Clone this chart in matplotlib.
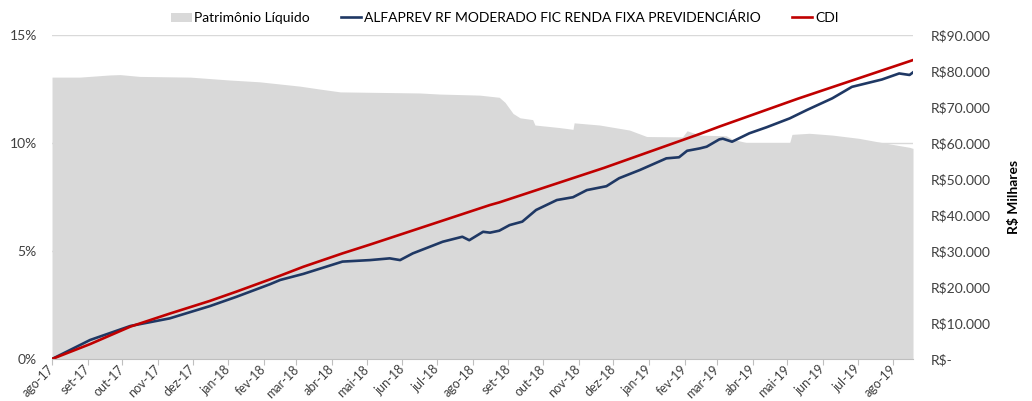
import numpy as np
import pandas as pd
import matplotlib
matplotlib.use("Agg")
import matplotlib.pyplot as plt
from matplotlib.ticker import FuncFormatter

plt.rcParams['font.family'] = ['Lato', 'DejaVu Sans']

# fund return (%)
fund_dates = ['2017-08-01', '2017-09-03', '2017-10-08', '2017-11-11', '2017-12-16',
              '2018-01-08', '2018-02-06', '2018-02-15', '2018-03-07', '2018-04-10',
              '2018-05-04', '2018-05-21', '2018-05-30', '2018-06-10', '2018-07-06',
              '2018-07-23', '2018-07-29', '2018-08-10', '2018-08-16', '2018-08-24',
              '2018-09-02', '2018-09-13', '2018-09-25', '2018-10-13', '2018-10-27',
              '2018-11-08', '2018-11-25', '2018-12-06', '2018-12-24', '2019-01-16',
              '2019-01-27', '2019-02-03', '2019-02-14', '2019-02-20', '2019-03-03',
              '2019-03-06', '2019-03-14', '2019-03-29', '2019-04-13', '2019-05-03',
              '2019-05-18', '2019-06-09', '2019-06-26', '2019-07-22', '2019-08-06',
              '2019-08-15', '2019-08-18']
fund_ret = [0.00, 0.88, 1.53, 1.88, 2.45,
            2.88, 3.46, 3.66, 3.94, 4.51,
            4.58, 4.66, 4.58, 4.89, 5.43,
            5.66, 5.50, 5.89, 5.85, 5.94,
            6.20, 6.36, 6.90, 7.36, 7.49,
            7.82, 8.00, 8.37, 8.75, 9.29,
            9.34, 9.64, 9.75, 9.83, 10.17,
            10.20, 10.06, 10.45, 10.73, 11.14,
            11.53, 12.07, 12.60, 12.94, 13.22,
            13.15, 13.27]

# CDI accumulated (%)
cdi_dates = ['2017-08-01', '2017-09-03', '2017-10-08', '2017-11-11', '2017-12-16',
             '2018-01-08', '2018-02-15', '2018-03-07', '2018-04-10', '2018-05-04',
             '2018-08-16', '2018-08-24', '2018-11-23', '2019-02-14', '2019-03-03',
             '2019-05-10', '2019-08-18']
cdi_ret = [0.00, 0.69, 1.50, 2.10, 2.69,
           3.12, 3.86, 4.27, 4.89, 5.30,
           7.13, 7.25, 8.85, 10.42, 10.76,
           12.05, 13.84]

# Patrimônio Líquido (R$ milhares)
pl_dates = ['2017-08-01', '2017-08-25', '2017-09-20', '2017-09-29', '2017-10-16',
            '2017-11-29', '2018-01-02', '2018-01-28', '2018-03-04', '2018-03-21',
            '2018-04-08', '2018-06-16', '2018-07-03', '2018-08-07', '2018-08-24',
            '2018-08-29', '2018-09-05', '2018-09-11', '2018-09-22', '2018-09-24',
            '2018-10-15', '2018-10-27', '2018-10-28', '2018-11-19', '2018-12-15',
            '2018-12-30', '2019-01-30', '2019-02-03', '2019-02-14', '2019-03-09',
            '2019-03-14', '2019-03-29', '2019-05-03', '2019-05-05', '2019-05-20',
            '2019-06-09', '2019-07-02', '2019-07-26', '2019-08-15', '2019-08-18']
pl_vals = [78300, 78300, 78900, 79000, 78500,
           78300, 77500, 77000, 75800, 75000,
           74200, 73900, 73600, 73300, 72700,
           71300, 68200, 67000, 66500, 65000,
           64300, 63800, 65600, 65000, 63600,
           61800, 61700, 63400, 62200, 62000,
           61100, 59900, 60100, 62400, 62700,
           62200, 61300, 59900, 58800, 58500]

month_names = ['jan', 'fev', 'mar', 'abr', 'mai', 'jun',
               'jul', 'ago', 'set', 'out', 'nov', 'dez']

fund_x = pd.to_datetime(fund_dates)
cdi_x = pd.to_datetime(cdi_dates)
pl_x = pd.to_datetime(pl_dates)

txt = '#404040'
grid_c = '#d9d9d9'

fig = plt.figure(figsize=(10.32, 4.01), dpi=100)
ax = fig.add_axes([0.0504, 0.1047, 0.8343, 0.808])
ax2 = ax.twinx()
ax.set_zorder(ax2.get_zorder() + 1)
ax.patch.set_visible(False)

# area + grid on the secondary axis (behind lines)
ax2.fill_between(pl_x, pl_vals, 0, color='#d9d9d9', lw=0, label='Patrimônio Líquido')
ax2.set_ylim(0, 90000)
ax2.set_yticks(np.arange(0, 90001, 10000))
ax2.yaxis.set_major_formatter(FuncFormatter(
    lambda v, p: 'R$-' if v == 0 else 'R$' + f'{int(v):,}'.replace(',', '.')))
for g in [30000, 60000, 90000]:
    ax2.axhline(g, color=grid_c, lw=1, zorder=0)
ax2.tick_params(axis='y', length=0, pad=13, labelsize=10, labelcolor=txt)
ax2.set_ylabel('R$ Milhares', fontsize=10, fontweight='bold', color='black', labelpad=12)

ax.plot(fund_x, fund_ret, color='#1f3864', lw=1.9,
        label='ALFAPREV RF MODERADO FIC RENDA FIXA PREVIDENCIÁRIO')
ax.plot(cdi_x, cdi_ret, color='#c00000', lw=1.9, label='CDI')
ax.set_ylim(0, 15)
ax.set_yticks([0, 5, 10, 15])
ax.yaxis.set_major_formatter(FuncFormatter(lambda v, p: f'{int(v)}%'))
ax.tick_params(axis='y', length=0, pad=11, labelsize=10, labelcolor=txt)

ax.set_xlim(fund_x[0], fund_x[-1])
ticks = pd.date_range('2017-08-01', '2019-08-01', freq='MS')
ax.set_xticks(ticks)
ax.set_xticklabels([f'{month_names[t.month - 1]}-{t.year % 100:02d}' for t in ticks],
                   rotation=45, ha='right', va='center', rotation_mode='anchor')
ax.tick_params(axis='x', length=4, color='#bfbfbf', labelsize=9, labelcolor=txt, pad=2)

for a in (ax, ax2):
    for s in ('top', 'left', 'right', 'bottom'):
        a.spines[s].set_visible(False)
ax.spines['bottom'].set_visible(True)
ax.spines['bottom'].set_color('#bfbfbf')

h2, l2 = ax2.get_legend_handles_labels()
h1, l1 = ax.get_legend_handles_labels()
fig.legend(h2 + h1, l2 + l1, loc='center', bbox_to_anchor=(0.489, 0.955), ncol=3,
           frameon=False, fontsize=10, handlelength=1.5, handletextpad=0.2,
           columnspacing=2.2, labelcolor='black')

fig.savefig('out.png', dpi=100)
